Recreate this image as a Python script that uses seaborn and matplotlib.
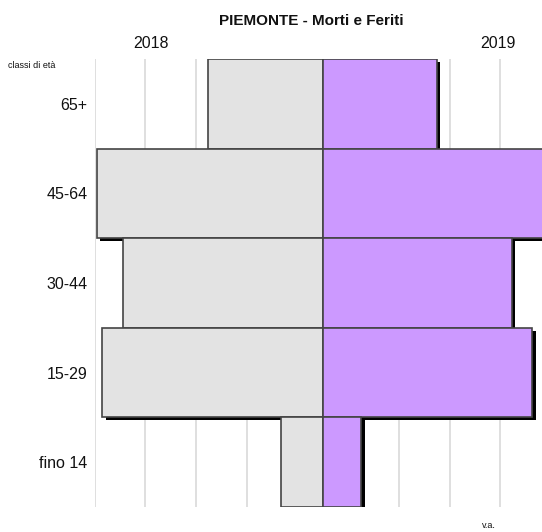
import matplotlib
matplotlib.use("Agg")
import matplotlib.pyplot as plt
import matplotlib.patheffects as pe
import seaborn as sns
import pandas as pd
import numpy as np

classes = ["65+", "45-64", "30-44", "15-29", "fino 14"]
values_2018 = [2256, 4458, 3933, 4347, 822]
values_2019 = [2249, 4460, 3728, 4134, 755]
grid_ticks = [-4500, -3500, -2500, -1500, -500, 500, 1500, 2500, 3500, 4500]

sns.set_theme(style="white")
plt.rcParams['font.family'] = ['Liberation Sans', 'DejaVu Sans']

W, H = 542, 532
fig = plt.figure(figsize=(W / 100, H / 100), dpi=100)
ax_left = 94.7 / W
ax_right = 551.0 / W
ax_bottom = (H - 507) / H
ax_top = (H - 59) / H
ax = fig.add_axes([ax_left, ax_bottom, ax_right - ax_left, ax_top - ax_bottom])

df = pd.DataFrame({"classe": classes,
                   "v2018": -np.array(values_2018),
                   "v2019": np.array(values_2019)})

shadow = [pe.SimplePatchShadow(offset=(2.6, -2.2), shadow_rgbFace="black", alpha=1.0), pe.Normal()]

sns.barplot(data=df, x="v2018", y="classe", orient="h", color="#e3e3e3",
            width=1.0, edgecolor="#444444", linewidth=1.2, saturation=1, ax=ax)
sns.barplot(data=df, x="v2019", y="classe", orient="h", color="#cc99ff",
            width=1.0, edgecolor="#444444", linewidth=1.2, saturation=1, ax=ax)
for p in ax.patches:
    p.set_path_effects(shadow)

ax.set_xlim(-4500, 4500)
ax.set_ylim(4.5, -0.5)
ax.set_xticks(grid_ticks)
ax.set_xticklabels([])
ax.xaxis.grid(True, color="#d9d9d9", linewidth=1.2)
ax.set_axisbelow(True)
for s in ax.spines.values():
    s.set_visible(False)
ax.tick_params(axis="y", length=0, pad=5.3, labelsize=11.5, labelcolor="#111111")
ax.tick_params(axis="x", length=0)
ax.set_xlabel("")
ax.set_ylabel("")

fig.text(311 / W, 1 - 21 / H, "PIEMONTE - Morti e Feriti", ha="center", va="center",
         fontsize=11, fontweight="bold", color="#111111")
fig.text(151 / W, 1 - 44 / H, "2018", ha="center", va="center", fontsize=11.5, color="#111111")
fig.text(498 / W, 1 - 44 / H, "2019", ha="center", va="center", fontsize=11.5, color="#111111")
fig.text(8 / W, 1 - 66 / H, "classi di età", ha="left", va="center", fontsize=6.5, color="#111111")
fig.text(489 / W, 1 - 526 / H, "v.a.", ha="center", va="center", fontsize=6.5, color="#111111")

fig.savefig("out.png", dpi=100)
